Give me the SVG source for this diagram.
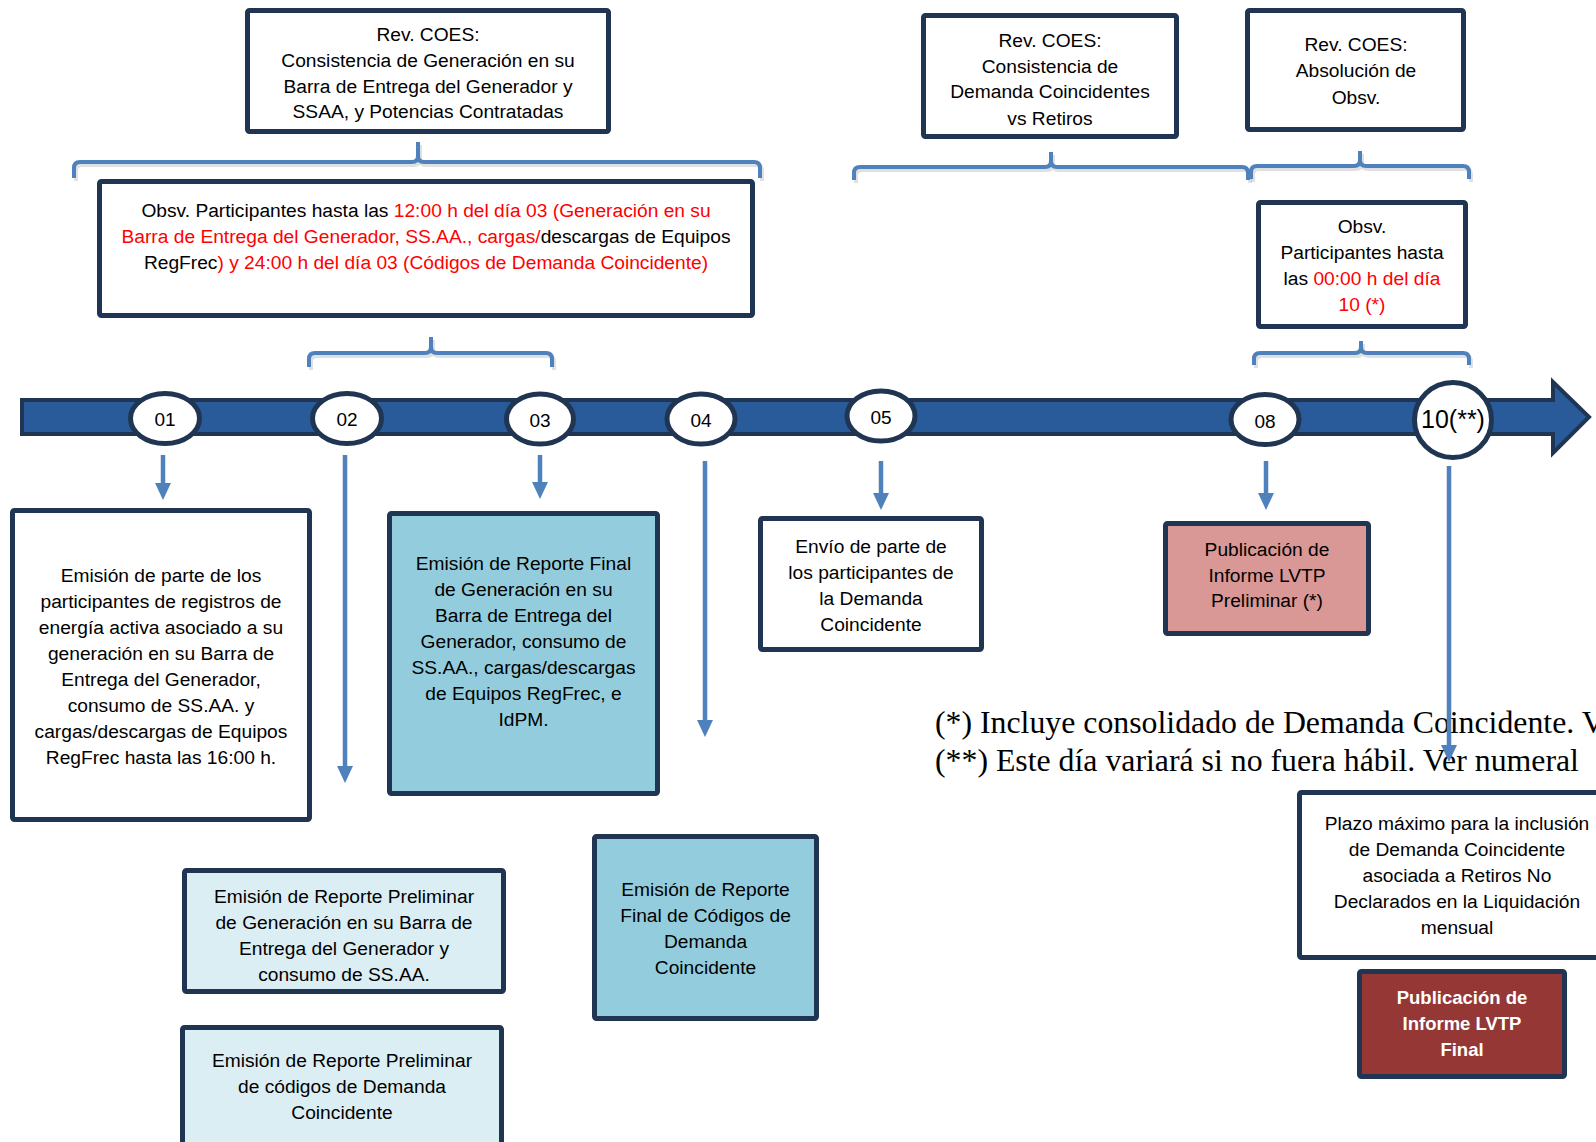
<svg xmlns="http://www.w3.org/2000/svg" width="1596" height="1142" viewBox="0 0 1596 1142">
<style>
.box{stroke:#1F3552;stroke-width:5;}
.t{font-family:"Liberation Sans",Arial,sans-serif;font-size:19.2px;fill:#000;text-anchor:middle;}
.r{fill:#FF0000;}
.b{fill:none;stroke:#4F81BD;stroke-width:4;stroke-linejoin:round;}
.bs{fill:none;stroke:#000;stroke-opacity:0.12;stroke-width:4;}
.ar{stroke:#4F81BD;stroke-width:4.5;marker-end:url(#ah);}
.num{font-family:"Liberation Sans",Arial,sans-serif;font-size:19px;text-anchor:middle;fill:#000;}
.note{font-family:"Liberation Serif","Times New Roman",serif;font-size:31.8px;fill:#000;}
</style>
<defs>
<marker id="ah" markerUnits="userSpaceOnUse" markerWidth="18" markerHeight="18" refX="2" refY="8" orient="auto">
<path d="M0,0 L17,8 L0,16 z" fill="#4F81BD"/>
</marker>
</defs>
<rect width="1596" height="1142" fill="#FFFFFF"/>

<g id="brackets">
<path class="bs" transform="translate(2,3)" d="M74,178 L74,168 Q74,162 80,162 L412,162 Q418,162 418,156 L418,142 M418,156 Q418,162 424,162 L754,162 Q760,162 760,168 L760,178"/>
<path class="b" d="M74,178 L74,168 Q74,162 80,162 L412,162 Q418,162 418,156 L418,142 M418,156 Q418,162 424,162 L754,162 Q760,162 760,168 L760,178"/>
<path class="bs" transform="translate(2,3)" d="M309,367 L309,359 Q309,353 315,353 L425,353 Q431,353 431,347 L431,337 M431,347 Q431,353 437,353 L546,353 Q552,353 552,359 L552,367"/>
<path class="b" d="M309,367 L309,359 Q309,353 315,353 L425,353 Q431,353 431,347 L431,337 M431,347 Q431,353 437,353 L546,353 Q552,353 552,359 L552,367"/>
<path class="bs" transform="translate(2,3)" d="M854,180 L854,173 Q854,167 860,167 L1045,167 Q1051,167 1051,161 L1051,152 M1051,161 Q1051,167 1057,167 L1242,167 Q1248,167 1248,173 L1248,180"/>
<path class="b" d="M854,180 L854,173 Q854,167 860,167 L1045,167 Q1051,167 1051,161 L1051,152 M1051,161 Q1051,167 1057,167 L1242,167 Q1248,167 1248,173 L1248,180"/>
<path class="bs" transform="translate(2,3)" d="M1251,179 L1251,172 Q1251,166 1257,166 L1354,166 Q1360,166 1360,160 L1360,151 M1360,160 Q1360,166 1366,166 L1463,166 Q1469,166 1469,172 L1469,179"/>
<path class="b" d="M1251,179 L1251,172 Q1251,166 1257,166 L1354,166 Q1360,166 1360,160 L1360,151 M1360,160 Q1360,166 1366,166 L1463,166 Q1469,166 1469,172 L1469,179"/>
<path class="bs" transform="translate(2,3)" d="M1254,365 L1254,359 Q1254,353 1260,353 L1355,353 Q1361,353 1361,347 L1361,341 M1361,347 Q1361,353 1367,353 L1463,353 Q1469,353 1469,359 L1469,365"/>
<path class="b" d="M1254,365 L1254,359 Q1254,353 1260,353 L1355,353 Q1361,353 1361,347 L1361,341 M1361,347 Q1361,353 1367,353 L1463,353 Q1469,353 1469,359 L1469,365"/>
</g>

<g id="boxA">
<rect class="box" x="247.5" y="10.5" width="361" height="121" rx="2" fill="#FFFFFF"/>
<text class="t" x="428" y="41">Rev. COES:</text>
<text class="t" x="428" y="67">Consistencia de Generación en su</text>
<text class="t" x="428" y="93">Barra de Entrega del Generador y</text>
<text class="t" x="428" y="118">SSAA, y Potencias Contratadas</text>
</g>

<g id="boxB">
<rect class="box" x="99.5" y="181.5" width="653" height="134" rx="2" fill="#FFFFFF"/>
<text class="t" x="426" y="217">Obsv. Participantes hasta las <tspan class="r">12:00 h del día 03 (Generación en su</tspan></text>
<text class="t" x="426" y="243"><tspan class="r">Barra de Entrega del Generador, SS.AA., cargas/</tspan>descargas de Equipos</text>
<text class="t" x="426" y="269">RegFrec<tspan class="r">) y 24:00 h del día 03 (Códigos de Demanda Coincidente)</tspan></text>
</g>

<g id="boxC">
<rect class="box" x="923.5" y="15.5" width="253" height="121" rx="2" fill="#FFFFFF"/>
<text class="t" x="1050" y="47">Rev. COES:</text>
<text class="t" x="1050" y="73">Consistencia de</text>
<text class="t" x="1050" y="98">Demanda Coincidentes</text>
<text class="t" x="1050" y="125">vs Retiros</text>
</g>

<g id="boxD">
<rect class="box" x="1247.5" y="10.5" width="216" height="119" rx="2" fill="#FFFFFF"/>
<text class="t" x="1356" y="51">Rev. COES:</text>
<text class="t" x="1356" y="77">Absolución de</text>
<text class="t" x="1356" y="104">Obsv.</text>
</g>

<g id="boxE">
<rect class="box" x="1258.5" y="202.5" width="207" height="124" rx="2" fill="#FFFFFF"/>
<text class="t" x="1362" y="233">Obsv.</text>
<text class="t" x="1362" y="259">Participantes hasta</text>
<text class="t" x="1362" y="285">las <tspan class="r">00:00 h del día</tspan></text>
<text class="t r" x="1362" y="311">10 (*)</text>
</g>

<g id="boxF">
<rect class="box" x="12.5" y="510.5" width="297" height="309" rx="2" fill="#FFFFFF"/>
<text class="t" x="161" y="582">Emisión de parte de los</text>
<text class="t" x="161" y="608">participantes de registros de</text>
<text class="t" x="161" y="634">energía activa asociado a su</text>
<text class="t" x="161" y="660">generación en su Barra de</text>
<text class="t" x="161" y="686">Entrega del Generador,</text>
<text class="t" x="161" y="712">consumo de SS.AA. y</text>
<text class="t" x="161" y="738">cargas/descargas de Equipos</text>
<text class="t" x="161" y="764">RegFrec hasta las 16:00 h.</text>
</g>

<g id="boxG">
<rect class="box" x="389.5" y="513.5" width="268" height="280" rx="2" fill="#93CDDD"/>
<text class="t" x="523.5" y="570">Emisión de Reporte Final</text>
<text class="t" x="523.5" y="596">de Generación en su</text>
<text class="t" x="523.5" y="622">Barra de Entrega del</text>
<text class="t" x="523.5" y="648">Generador, consumo de</text>
<text class="t" x="523.5" y="674">SS.AA., cargas/descargas</text>
<text class="t" x="523.5" y="700">de Equipos RegFrec, e</text>
<text class="t" x="523.5" y="726">IdPM.</text>
</g>

<g id="boxH">
<rect class="box" x="760.5" y="518.5" width="221" height="131" rx="2" fill="#FFFFFF"/>
<text class="t" x="871" y="553">Envío de parte de</text>
<text class="t" x="871" y="579">los participantes de</text>
<text class="t" x="871" y="605">la Demanda</text>
<text class="t" x="871" y="631">Coincidente</text>
</g>

<g id="boxI">
<rect class="box" x="1165.5" y="523.5" width="203" height="110" rx="2" fill="#D99795"/>
<text class="t" x="1267" y="556">Publicación de</text>
<text class="t" x="1267" y="582">Informe LVTP</text>
<text class="t" x="1267" y="607">Preliminar (*)</text>
</g>

<g id="boxJ">
<rect class="box" x="184.5" y="870.5" width="319" height="121" rx="2" fill="#DBEEF4"/>
<text class="t" x="344" y="903">Emisión de Reporte Preliminar</text>
<text class="t" x="344" y="929">de Generación en su Barra de</text>
<text class="t" x="344" y="955">Entrega del Generador y</text>
<text class="t" x="344" y="981">consumo de SS.AA.</text>
</g>

<g id="boxK">
<rect class="box" x="182.5" y="1027.5" width="319" height="140" rx="2" fill="#DBEEF4"/>
<text class="t" x="342" y="1067">Emisión de Reporte Preliminar</text>
<text class="t" x="342" y="1093">de códigos de Demanda</text>
<text class="t" x="342" y="1119">Coincidente</text>
</g>

<g id="boxL">
<rect class="box" x="594.5" y="836.5" width="222" height="182" rx="2" fill="#93CDDD"/>
<text class="t" x="705.5" y="896">Emisión de Reporte</text>
<text class="t" x="705.5" y="922">Final de Códigos de</text>
<text class="t" x="705.5" y="948">Demanda</text>
<text class="t" x="705.5" y="974">Coincidente</text>
</g>

<g id="boxM">
<rect class="box" x="1299.5" y="792.5" width="320" height="165" rx="2" fill="#FFFFFF"/>
<text class="t" x="1457" y="830">Plazo máximo para la inclusión</text>
<text class="t" x="1457" y="856">de Demanda Coincidente</text>
<text class="t" x="1457" y="882">asociada a Retiros No</text>
<text class="t" x="1457" y="908">Declarados en la Liquidación</text>
<text class="t" x="1457" y="934">mensual</text>
</g>

<g id="boxN">
<rect class="box" x="1359.5" y="971.5" width="205" height="105" rx="2" fill="#953735"/>
<text class="t" x="1462" y="1004" style="fill:#FFFFFF;font-weight:bold;font-size:18.5px">Publicación de</text>
<text class="t" x="1462" y="1030" style="fill:#FFFFFF;font-weight:bold;font-size:18.5px">Informe LVTP</text>
<text class="t" x="1462" y="1056" style="fill:#FFFFFF;font-weight:bold;font-size:18.5px">Final</text>
</g>

<g id="notes">
<text class="note" x="935" y="733">(*) Incluye consolidado de Demanda Coincidente. V</text>
<text class="note" x="935" y="771">(**) Este día variará si no fuera hábil. Ver numeral</text>
</g>

<g id="timeline">
<path d="M22,400 L1553,400 L1553,382 L1589,417 L1553,453 L1553,434 L22,434 Z" fill="#295A9A" stroke="#1F3552" stroke-width="4" stroke-linejoin="miter"/>
</g>

<g id="d01"><ellipse cx="165" cy="418.5" rx="34.5" ry="25" fill="#FFFFFF" stroke="#1F3552" stroke-width="5"/><text class="num" x="165" y="426">01</text></g>
<g id="d02"><ellipse cx="347" cy="418.5" rx="34.5" ry="25" fill="#FFFFFF" stroke="#1F3552" stroke-width="5"/><text class="num" x="347" y="426">02</text></g>
<g id="d03"><ellipse cx="540" cy="419" rx="33.5" ry="25" fill="#FFFFFF" stroke="#1F3552" stroke-width="5"/><text class="num" x="540" y="426.5">03</text></g>
<g id="d04"><ellipse cx="701" cy="419" rx="34" ry="25" fill="#FFFFFF" stroke="#1F3552" stroke-width="5"/><text class="num" x="701" y="426.5">04</text></g>
<g id="d05"><ellipse cx="881" cy="416" rx="34" ry="25" fill="#FFFFFF" stroke="#1F3552" stroke-width="5"/><text class="num" x="881" y="423.5">05</text></g>
<g id="d08"><ellipse cx="1265" cy="419.5" rx="34" ry="25" fill="#FFFFFF" stroke="#1F3552" stroke-width="5"/><text class="num" x="1265" y="428">08</text></g>
<g id="d10"><ellipse cx="1453" cy="420" rx="38.5" ry="37.5" fill="#FFFFFF" stroke="#1F3552" stroke-width="5"/><text class="num" x="1453" y="427.5" style="font-size:25px">10(**)</text></g>

<g id="connectors">
<line class="ar" x1="163" y1="455" x2="163" y2="485"/>
<line class="ar" x1="345" y1="455" x2="345" y2="768"/>
<line class="ar" x1="540" y1="455" x2="540" y2="484"/>
<line class="ar" x1="705" y1="461" x2="705" y2="722"/>
<line class="ar" x1="881" y1="461" x2="881" y2="495"/>
<line class="ar" x1="1266" y1="461" x2="1266" y2="495"/>
<line class="ar" x1="1449" y1="466" x2="1449" y2="747"/>
</g>
</svg>
